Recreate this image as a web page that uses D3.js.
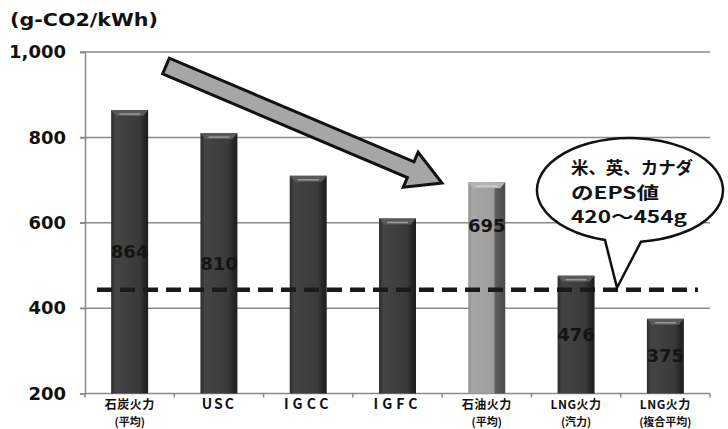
<!DOCTYPE html>
<html>
<head>
<meta charset="utf-8">
<script src="https://cdn.jsdelivr.net/npm/d3@7"></script>
<style>
  html, body { margin: 0; padding: 0; background: #fff; }
  svg { display: block; }
</style>
</head>
<body>
<svg id="chart" width="728" height="429"></svg>
<script>
// CO2 emission intensity by generation type (g-CO2/kWh)
const categories = ["coal_avg", "USC", "IGCC", "IGFC", "oil_avg", "lng_steam", "lng_cc"];
const labelLine1 = ["石炭火力", "USC", "IGCC", "IGFC", "石油火力", "LNG火力", "LNG火力"];
const labelLine2 = ["(平均)", "", "", "", "(平均)", "(汽力)", "(複合平均)"];
const emissions = [864, 810, 710, 610, 695, 476, 375];
const showValue = [true, true, false, false, true, true, true];
const highlighted = [false, false, false, false, true, false, false];
const yTicks = [200, 400, 600, 800, 1000];
const epsLevel = 443;
const unitLabel = "(g-CO2/kWh)";
const calloutLines = ["米、英、カナダ", "のEPS値", "420～454g"];

const svg = d3.select("#chart");
const plotLeft = 85, plotRight = 710, plotTop = 52, plotBottom = 393.5;

const x = d3.scaleBand().domain(categories).range([plotLeft, plotRight])
  .paddingInner(0.586).paddingOuter(0.293);
const y = d3.scaleLinear().domain([200, 1000]).range([plotBottom, plotTop]);

// gradients for the bevelled bars
const defs = svg.append("defs");
function hGrad(id, stops) {
  const g = defs.append("linearGradient").attr("id", id)
    .attr("x1", "0%").attr("x2", "100%").attr("y1", "0%").attr("y2", "0%");
  stops.forEach(([o, c]) => g.append("stop").attr("offset", o).attr("stop-color", c));
}
hGrad("barDark", [["0%", "#2c2c2c"], ["12%", "#444"], ["75%", "#3a3a3a"], ["90%", "#262626"], ["100%", "#1c1c1c"]]);
hGrad("barLight", [["0%", "#8e8e8e"], ["10%", "#a6a6a6"], ["68%", "#9c9c9c"], ["74%", "#5c5c5c"], ["100%", "#4a4a4a"]]);

// unit title
svg.append("text")
  .attr("x", 10).attr("y", 26)
  .attr("textLength", 148).attr("lengthAdjust", "spacingAndGlyphs")
  .style("font-family", "DejaVu Sans").style("font-weight", "bold")
  .style("font-size", "18px").attr("fill", "#111")
  .text(unitLabel);

// horizontal gridlines
svg.append("g").selectAll("line").data(yTicks.filter(d => d > 200)).join("line")
  .attr("x1", plotLeft - 5).attr("x2", plotRight)
  .attr("y1", d => y(d)).attr("y2", d => y(d))
  .attr("stroke", "#8a8a8a").attr("stroke-width", 1.5);

// y axis
const yAxis = d3.axisLeft(y).tickValues(yTicks).tickSize(5).tickPadding(14)
  .tickFormat(d3.format(","));
const gy = svg.append("g").attr("transform", `translate(${plotLeft},0)`).call(yAxis);
gy.select(".domain").attr("stroke", "#8a8a8a").attr("stroke-width", 1.5);
gy.selectAll(".tick line").attr("stroke", "#8a8a8a").attr("stroke-width", 1.5);
gy.selectAll(".tick text")
  .style("font-family", "DejaVu Sans").style("font-weight", "bold")
  .style("font-size", "18px").attr("fill", "#111");

// x axis line with ticks between categories
svg.append("line").attr("x1", plotLeft).attr("x2", plotRight)
  .attr("y1", plotBottom).attr("y2", plotBottom)
  .attr("stroke", "#8a8a8a").attr("stroke-width", 1.5);
const step = x.step();
svg.append("g").selectAll("line").data(d3.range(categories.length + 1)).join("line")
  .attr("x1", i => plotLeft + i * step).attr("x2", i => plotLeft + i * step)
  .attr("y1", plotBottom).attr("y2", plotBottom + 4)
  .attr("stroke", "#8a8a8a").attr("stroke-width", 1.5);

// bars
const bars = svg.append("g");
categories.forEach((c, i) => {
  const bx = x(c), bw = x.bandwidth(), by = y(emissions[i]);
  const g = bars.append("g");
  g.append("rect").attr("x", bx).attr("y", by).attr("width", bw).attr("height", plotBottom - by)
    .attr("fill", highlighted[i] ? "url(#barLight)" : "url(#barDark)");
  // bevelled top cap
  g.append("path")
    .attr("d", `M${bx},${by} L${bx + bw},${by} L${bx + bw - 5},${by + 6} L${bx + 5},${by + 6} Z`)
    .attr("fill", highlighted[i] ? "#b4b4b4" : "#5a5a5a");
  g.append("line")
    .attr("x1", bx + 8).attr("x2", bx + bw - 8)
    .attr("y1", by + 4).attr("y2", by + 4)
    .attr("stroke", highlighted[i] ? "#d0d0d0" : "#9a9a9a").attr("stroke-width", 1.5);
});

// category labels (two lines)
const xl = svg.append("g");
categories.forEach((c, i) => {
  const cx = x(c) + x.bandwidth() / 2;
  const isLatin = /^[A-Z]+$/.test(labelLine1[i]);
  xl.append("text").attr("x", cx).attr("y", 409)
    .attr("text-anchor", "middle")
    .style("font-family", "'Noto Sans CJK JP', 'DejaVu Sans'")
    .style("font-weight", "bold")
    .style("font-size", isLatin ? "14px" : "12px")
    .style("letter-spacing", isLatin ? (labelLine1[i].length > 3 ? "4px" : "2px") : "0.5px")
    .attr("fill", "#111")
    .text(labelLine1[i]);
  if (labelLine2[i]) {
    xl.append("text").attr("x", cx).attr("y", 425.5)
      .attr("text-anchor", "middle")
      .style("font-family", "'Noto Sans CJK JP'")
      .style("font-weight", "bold").style("font-size", "11px")
      .attr("fill", "#111")
      .text(labelLine2[i]);
  }
});

// value labels inside bars
categories.forEach((c, i) => {
  if (!showValue[i]) return;
  const by = y(emissions[i]);
  const ly = highlighted[i] ? by + 44 : (by + plotBottom) / 2;
  svg.append("text")
    .attr("x", x(c) + x.bandwidth() / 2).attr("y", ly)
    .attr("dy", "0.35em").attr("text-anchor", "middle")
    .style("font-family", "DejaVu Sans").style("font-weight", "bold")
    .style("font-size", "18px").attr("fill", "#141414")
    .text(emissions[i]);
});

// EPS reference line
svg.append("line")
  .attr("x1", 97).attr("x2", 698)
  .attr("y1", y(epsLevel)).attr("y2", y(epsLevel))
  .attr("stroke", "#1a1a1a").attr("stroke-width", 4.5)
  .attr("stroke-dasharray", "15,8");

// downward trend arrow
(function drawArrow() {
  const x0 = 166, y0 = 66, x1 = 442, y1 = 183;
  const len = Math.hypot(x1 - x0, y1 - y0);
  const ux = (x1 - x0) / len, uy = (y1 - y0) / len;
  const nx = -uy, ny = ux;
  const shaft = 8.5, head = 19, headLen = 34;
  const bxp = x1 - ux * headLen, byp = y1 - uy * headLen;
  const pts = [
    [x0 + nx * shaft, y0 + ny * shaft],
    [bxp + nx * shaft, byp + ny * shaft],
    [bxp + nx * head, byp + ny * head],
    [x1, y1],
    [bxp - nx * head, byp - ny * head],
    [bxp - nx * shaft, byp - ny * shaft],
    [x0 - nx * shaft, y0 - ny * shaft]
  ];
  svg.append("path")
    .attr("d", d3.line()(pts) + "Z")
    .attr("fill", "#a6a6a6").attr("stroke", "#111")
    .attr("stroke-width", 3).attr("stroke-linejoin", "miter");
})();

// speech bubble for the EPS range
(function drawBubble() {
  const cx = 630, cy = 190, rx = 93, ry = 52;
  const tip = [617, y(epsLevel) - 2];
  const a1 = Math.acos((605 - cx) / rx), a2 = Math.acos((641 - cx) / rx);
  const p1 = [cx + rx * Math.cos(a1), cy + ry * Math.sin(a1)];
  const p2 = [cx + rx * Math.cos(a2), cy + ry * Math.sin(a2)];
  const d = `M${p2[0]},${p2[1]} A${rx},${ry} 0 1 0 ${p1[0]},${p1[1]} L${tip[0]},${tip[1]} Z`;
  svg.append("path").attr("d", d)
    .attr("fill", "#fff").attr("stroke", "#111").attr("stroke-width", 2.5)
    .attr("stroke-linejoin", "miter");
  const baselines = [174, 199, 223];
  const widths = [122, 88, 116];
  calloutLines.forEach((t, i) => {
    svg.append("text").attr("x", 571).attr("y", baselines[i])
      .attr("textLength", widths[i]).attr("lengthAdjust", "spacingAndGlyphs")
      .style("font-family", "'Noto Sans CJK JP'").style("font-weight", "bold")
      .style("font-size", "17px").attr("fill", "#111")
      .text(t);
  });
})();
</script>
</body>
</html>
